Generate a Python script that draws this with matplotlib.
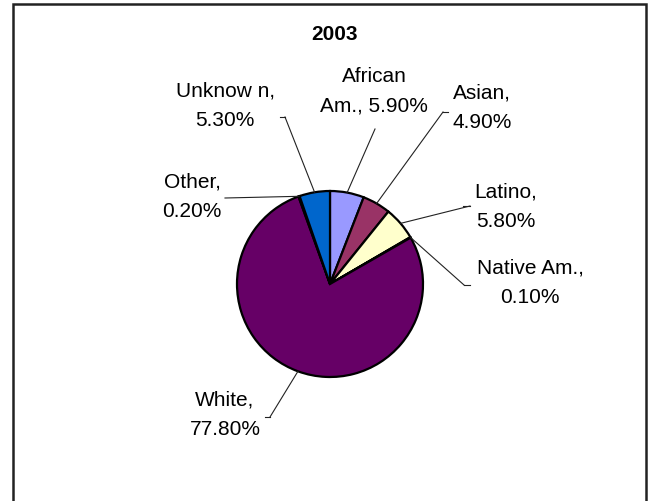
import numpy as np
import matplotlib
matplotlib.use('Agg')
import matplotlib.pyplot as plt
from matplotlib.patches import Rectangle

plt.rcParams['font.family'] = ['Liberation Sans', 'DejaVu Sans']

# data (clockwise from 12 o'clock)
groups = ['African\nAm.', 'Asian', 'Latino', 'Native Am.', 'White', 'Other', 'Unknow n']
shares = [5.9, 4.9, 5.8, 0.1, 77.8, 0.2, 5.3]
colors = ['#9999FF', '#993366', '#FFFFCC', '#CCFFFF', '#660066', '#FF8080', '#0066CC']
title = '2003'

W, H = 652, 502
fig = plt.figure(figsize=(W / 100, H / 100), dpi=100)
ax = fig.add_axes([0, 0, 1, 1])
ax.set_xlim(0, W)
ax.set_ylim(0, H)
ax.set_aspect('equal')
ax.axis('off')

def py(y):
    # pixel row -> data y
    return H - y

# chart frame
ax.add_patch(Rectangle((13, -10), 633, py(5) + 10, fill=False, ec='#222222', lw=1.8))

cx, cy, r = 330, py(285), 93
wedges, _ = ax.pie(shares, colors=colors, startangle=90, counterclock=False,
                   center=(cx, cy), radius=r,
                   wedgeprops=dict(edgecolor='black', linewidth=1.6))
ax.set_xlim(0, W)
ax.set_ylim(0, H)

# label text centre, leader end point, tick length
label_pos = [(374, 91), (482, 108), (506, 207), (530, 283), (225, 415), (192, 197), (225, 106)]
leader_end = [(375, 130), (443, 113), (470, 207), (464, 286), (270, 418), (225, 199), (285, 118)]
tick = [0, 5, -7, 6, -5, 0, -5]

for w, v, name, (tx, ty), (ex, ey), dx in zip(wedges, shares, groups, label_pos, leader_end, tick):
    a = np.deg2rad((w.theta1 + w.theta2) / 2)
    sx, sy = cx + r * np.cos(a), cy + r * np.sin(a)
    ax.plot([sx, ex], [sy, py(ey)], color='#222222', lw=0.8)
    if dx:
        ax.plot([ex, ex + dx], [py(ey), py(ey)], color='#222222', lw=0.8)
    if '\n' in name:
        txt = f'{name}, {v:.2f}%'
    else:
        txt = f'{name},\n{v:.2f}%'
    ax.text(tx, py(ty), txt, ha='center', va='center', fontsize=15,
            linespacing=1.72, color='black')

ax.text(334, py(35), title, ha='center', va='center', fontsize=15, fontweight='bold')

fig.savefig('out.png', dpi=100)
